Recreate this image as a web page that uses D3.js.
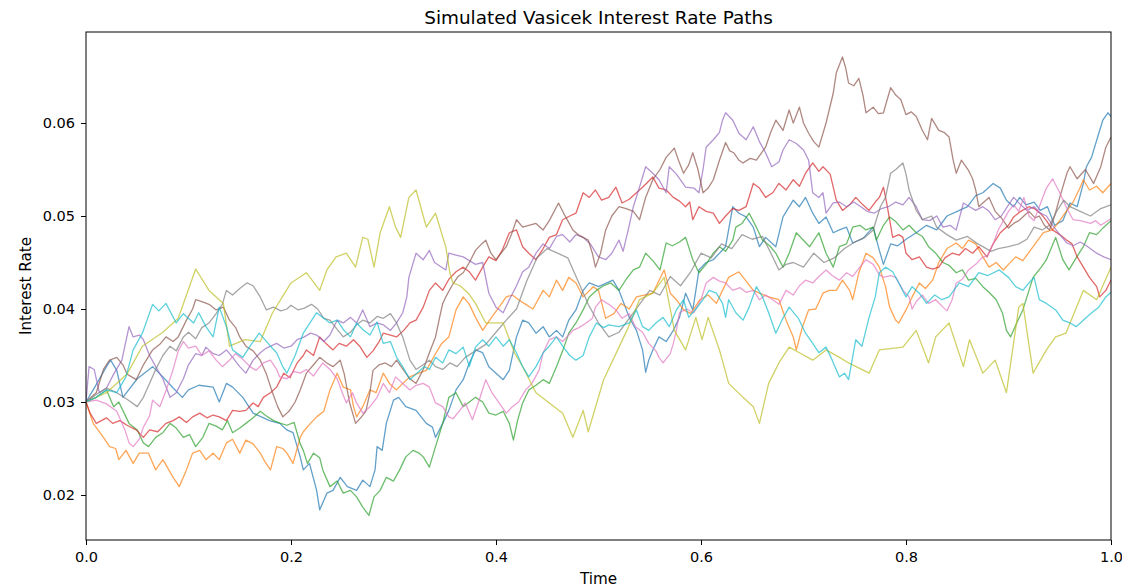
<!DOCTYPE html>
<html>
<head>
<meta charset="utf-8">
<script src="https://cdn.jsdelivr.net/npm/d3@7"></script>
<style>
  html, body { margin: 0; padding: 0; background: #fff; }
  svg { display: block; font-family: "DejaVu Sans", sans-serif; }
</style>
</head>
<body>
<svg id="chart" width="1122" height="587"></svg>
<script>
// ---- Data (time, rate) ----
const title = "Simulated Vasicek Interest Rate Paths";
const xLabel = "Time";
const yLabel = "Interest Rate";
const xTicks = [0.0, 0.2, 0.4, 0.6, 0.8, 1.0];
const yTicks = [0.02, 0.03, 0.04, 0.05, 0.06];

const path0 = [[0,0.030],[0.008,0.0315],[0.02,0.0338],[0.024,0.0345],[0.03,0.0334],[0.036,0.0305],[0.05,0.0325],[0.065,0.0338],[0.075,0.0327],[0.085,0.0315],[0.094,0.0305],[0.1,0.0313],[0.11,0.0318],[0.124,0.0316],[0.13,0.030],[0.137,0.032],[0.143,0.0316],[0.153,0.0305],[0.163,0.0288],[0.179,0.028],[0.189,0.0277],[0.196,0.027],[0.202,0.0267],[0.209,0.0241],[0.212,0.0227],[0.218,0.0234],[0.225,0.0205],[0.228,0.0184],[0.235,0.0202],[0.241,0.0205],[0.248,0.0219],[0.255,0.0209],[0.264,0.0205],[0.27,0.0216],[0.277,0.0209],[0.282,0.0227],[0.284,0.0252],[0.289,0.0248],[0.293,0.0277],[0.3,0.0302],[0.305,0.0305],[0.312,0.0295],[0.322,0.0291],[0.332,0.0277],[0.338,0.0273],[0.341,0.0262],[0.348,0.0277],[0.354,0.0291],[0.361,0.0313],[0.368,0.0324],[0.374,0.0342],[0.38,0.0356],[0.387,0.0353],[0.393,0.0338],[0.4,0.0331],[0.407,0.0324],[0.413,0.0334],[0.42,0.037],[0.426,0.0388],[0.432,0.0385],[0.439,0.0374],[0.446,0.0381],[0.452,0.037],[0.459,0.0377],[0.465,0.037],[0.471,0.0388],[0.478,0.0399],[0.485,0.042],[0.491,0.0428],[0.5,0.0424],[0.514,0.0431],[0.52,0.042],[0.53,0.0391],[0.537,0.0377],[0.543,0.0356],[0.546,0.0332],[0.549,0.0345],[0.553,0.0356],[0.559,0.037],[0.566,0.0365],[0.573,0.0377],[0.579,0.0391],[0.585,0.0417],[0.592,0.0399],[0.595,0.042],[0.598,0.0442],[0.605,0.045],[0.612,0.0453],[0.624,0.0467],[0.631,0.051],[0.637,0.0503],[0.644,0.0499],[0.651,0.0488],[0.657,0.0467],[0.663,0.0477],[0.673,0.0467],[0.68,0.0499],[0.69,0.0517],[0.696,0.051],[0.702,0.052],[0.709,0.0503],[0.715,0.0492],[0.722,0.0499],[0.729,0.0482],[0.735,0.0485],[0.742,0.0488],[0.748,0.0471],[0.758,0.0476],[0.768,0.0488],[0.774,0.0463],[0.778,0.0448],[0.785,0.047],[0.792,0.0468],[0.8,0.0475],[0.81,0.0482],[0.82,0.049],[0.83,0.0485],[0.84,0.050],[0.85,0.0505],[0.86,0.051],[0.868,0.0522],[0.875,0.0525],[0.885,0.0535],[0.892,0.053],[0.898,0.0517],[0.905,0.051],[0.911,0.052],[0.917,0.0512],[0.925,0.0515],[0.931,0.0506],[0.938,0.051],[0.945,0.049],[0.953,0.0495],[0.96,0.0514],[0.967,0.051],[0.973,0.0535],[0.976,0.0553],[0.981,0.0563],[0.987,0.0585],[0.992,0.0603],[0.997,0.0611],[1.0,0.0607]];

const path1 = [[0,0.030],[0.007,0.0277],[0.017,0.0262],[0.023,0.0252],[0.029,0.025],[0.032,0.0238],[0.039,0.0248],[0.046,0.0234],[0.052,0.0245],[0.061,0.0245],[0.068,0.0227],[0.075,0.0238],[0.085,0.0219],[0.091,0.0209],[0.098,0.0227],[0.104,0.0245],[0.111,0.0248],[0.117,0.0238],[0.124,0.0245],[0.13,0.0238],[0.137,0.0256],[0.143,0.026],[0.15,0.0245],[0.156,0.0259],[0.163,0.0255],[0.17,0.0245],[0.175,0.0235],[0.18,0.0227],[0.186,0.0252],[0.192,0.025],[0.196,0.0245],[0.202,0.0234],[0.209,0.0262],[0.212,0.0268],[0.219,0.0277],[0.225,0.0284],[0.232,0.029],[0.238,0.0313],[0.245,0.0331],[0.251,0.0316],[0.258,0.0313],[0.261,0.0295],[0.264,0.0284],[0.27,0.0295],[0.277,0.0313],[0.283,0.031],[0.29,0.0331],[0.296,0.032],[0.303,0.0313],[0.309,0.032],[0.316,0.0327],[0.322,0.033],[0.332,0.0334],[0.34,0.035],[0.347,0.0363],[0.354,0.037],[0.361,0.0399],[0.368,0.0413],[0.374,0.0405],[0.38,0.0391],[0.387,0.0377],[0.395,0.039],[0.403,0.0402],[0.41,0.0413],[0.416,0.0415],[0.422,0.041],[0.429,0.0405],[0.436,0.040],[0.446,0.042],[0.452,0.0413],[0.459,0.0431],[0.465,0.042],[0.471,0.0434],[0.478,0.0428],[0.485,0.0413],[0.495,0.0424],[0.5,0.042],[0.507,0.039],[0.515,0.0395],[0.522,0.0406],[0.53,0.040],[0.537,0.0413],[0.553,0.0417],[0.564,0.0442],[0.57,0.0417],[0.576,0.041],[0.583,0.0399],[0.59,0.0395],[0.599,0.041],[0.607,0.0415],[0.615,0.0406],[0.621,0.042],[0.627,0.0434],[0.637,0.044],[0.644,0.043],[0.651,0.042],[0.657,0.0417],[0.666,0.0413],[0.676,0.041],[0.683,0.0388],[0.69,0.037],[0.693,0.0356],[0.699,0.0381],[0.705,0.0399],[0.712,0.040],[0.719,0.0417],[0.725,0.042],[0.732,0.042],[0.738,0.0431],[0.745,0.042],[0.748,0.041],[0.754,0.0439],[0.761,0.046],[0.768,0.0455],[0.774,0.0445],[0.78,0.0424],[0.784,0.0402],[0.79,0.0388],[0.793,0.0385],[0.8,0.0399],[0.806,0.0413],[0.813,0.0428],[0.819,0.0422],[0.826,0.0431],[0.832,0.045],[0.84,0.0465],[0.849,0.0471],[0.855,0.0465],[0.861,0.0474],[0.868,0.047],[0.875,0.0456],[0.881,0.0445],[0.888,0.045],[0.895,0.0442],[0.9,0.0448],[0.907,0.0456],[0.914,0.0452],[0.924,0.0467],[0.934,0.0482],[0.943,0.0485],[0.95,0.0495],[0.957,0.0506],[0.963,0.0515],[0.97,0.0531],[0.973,0.0539],[0.979,0.0528],[0.986,0.0532],[0.992,0.0525],[1.0,0.0535]];

const path2 = [[0,0.030],[0.01,0.0305],[0.02,0.0313],[0.027,0.0295],[0.032,0.030],[0.039,0.0284],[0.042,0.0277],[0.05,0.027],[0.056,0.0256],[0.061,0.0252],[0.068,0.0262],[0.075,0.0267],[0.082,0.0277],[0.088,0.0272],[0.095,0.0262],[0.101,0.0265],[0.107,0.0252],[0.114,0.0262],[0.12,0.0277],[0.127,0.0274],[0.133,0.027],[0.138,0.028],[0.143,0.0267],[0.15,0.0272],[0.156,0.0277],[0.163,0.0283],[0.17,0.029],[0.176,0.0285],[0.183,0.028],[0.19,0.0277],[0.196,0.0275],[0.203,0.0278],[0.209,0.0255],[0.212,0.0248],[0.216,0.0234],[0.222,0.0245],[0.228,0.024],[0.231,0.0227],[0.238,0.0209],[0.245,0.0215],[0.251,0.0202],[0.258,0.0205],[0.264,0.0198],[0.27,0.0187],[0.276,0.0178],[0.281,0.0198],[0.287,0.0205],[0.293,0.0219],[0.3,0.0215],[0.306,0.0227],[0.312,0.0241],[0.319,0.0248],[0.325,0.0245],[0.329,0.0241],[0.335,0.023],[0.341,0.0252],[0.348,0.0277],[0.354,0.0305],[0.361,0.031],[0.368,0.0295],[0.374,0.030],[0.38,0.0305],[0.387,0.030],[0.393,0.0288],[0.4,0.0286],[0.407,0.029],[0.413,0.0277],[0.417,0.0259],[0.421,0.028],[0.426,0.0299],[0.432,0.0313],[0.439,0.0318],[0.446,0.0324],[0.452,0.032],[0.459,0.0338],[0.465,0.0355],[0.471,0.0374],[0.478,0.0385],[0.485,0.0399],[0.491,0.0413],[0.498,0.042],[0.505,0.0425],[0.512,0.0428],[0.52,0.042],[0.527,0.0432],[0.534,0.0442],[0.54,0.0445],[0.546,0.046],[0.553,0.0452],[0.56,0.0442],[0.566,0.0471],[0.572,0.0468],[0.579,0.0472],[0.585,0.0477],[0.592,0.0453],[0.598,0.0439],[0.605,0.0448],[0.612,0.046],[0.618,0.0467],[0.624,0.0462],[0.631,0.0474],[0.634,0.0488],[0.64,0.0492],[0.647,0.0503],[0.654,0.0488],[0.66,0.0474],[0.667,0.0468],[0.673,0.046],[0.68,0.0445],[0.686,0.046],[0.693,0.0482],[0.699,0.0475],[0.706,0.0467],[0.715,0.0482],[0.722,0.046],[0.729,0.0445],[0.735,0.0467],[0.742,0.047],[0.748,0.0488],[0.755,0.049],[0.761,0.0485],[0.768,0.0488],[0.771,0.0474],[0.778,0.049],[0.784,0.0499],[0.79,0.0494],[0.797,0.0485],[0.803,0.049],[0.81,0.0482],[0.816,0.0478],[0.822,0.0467],[0.829,0.046],[0.836,0.045],[0.842,0.0447],[0.849,0.0439],[0.855,0.0442],[0.861,0.0431],[0.868,0.0433],[0.875,0.0424],[0.881,0.0418],[0.888,0.041],[0.894,0.0396],[0.898,0.0377],[0.902,0.037],[0.908,0.0385],[0.914,0.0399],[0.92,0.042],[0.924,0.0434],[0.932,0.0445],[0.937,0.0453],[0.946,0.0477],[0.953,0.0453],[0.959,0.0442],[0.966,0.0455],[0.973,0.0467],[0.979,0.0482],[0.986,0.048],[0.993,0.0488],[1.0,0.0495]];

const path3 = [[0,0.030],[0.004,0.0288],[0.01,0.0277],[0.02,0.0283],[0.026,0.0277],[0.033,0.028],[0.04,0.0275],[0.049,0.027],[0.056,0.0262],[0.062,0.027],[0.07,0.0268],[0.078,0.0277],[0.085,0.028],[0.091,0.0284],[0.098,0.0278],[0.104,0.0284],[0.111,0.0288],[0.118,0.0283],[0.124,0.0286],[0.13,0.0284],[0.137,0.028],[0.143,0.0291],[0.15,0.029],[0.156,0.0291],[0.163,0.0299],[0.168,0.0295],[0.173,0.0305],[0.18,0.031],[0.186,0.0316],[0.193,0.0331],[0.199,0.0326],[0.206,0.0342],[0.212,0.035],[0.215,0.0356],[0.222,0.035],[0.228,0.037],[0.235,0.0362],[0.241,0.0356],[0.247,0.0363],[0.254,0.036],[0.261,0.0367],[0.267,0.036],[0.274,0.0348],[0.28,0.0355],[0.286,0.0365],[0.29,0.0374],[0.297,0.0372],[0.303,0.037],[0.31,0.0377],[0.316,0.0385],[0.322,0.0388],[0.329,0.0402],[0.335,0.042],[0.341,0.0428],[0.348,0.042],[0.354,0.0432],[0.361,0.044],[0.368,0.0445],[0.374,0.044],[0.38,0.0431],[0.387,0.0445],[0.393,0.0456],[0.4,0.0452],[0.406,0.0463],[0.413,0.0482],[0.42,0.0485],[0.426,0.0467],[0.432,0.046],[0.439,0.0453],[0.446,0.0465],[0.452,0.0477],[0.459,0.048],[0.465,0.0496],[0.472,0.050],[0.478,0.0503],[0.485,0.0525],[0.491,0.052],[0.497,0.0528],[0.503,0.0517],[0.51,0.052],[0.517,0.0531],[0.523,0.0514],[0.53,0.0518],[0.537,0.0525],[0.543,0.0531],[0.553,0.0542],[0.559,0.053],[0.566,0.0528],[0.573,0.052],[0.579,0.0516],[0.585,0.051],[0.589,0.0515],[0.592,0.0496],[0.598,0.051],[0.605,0.0505],[0.612,0.0503],[0.618,0.0492],[0.624,0.050],[0.631,0.0508],[0.637,0.0506],[0.644,0.051],[0.651,0.0535],[0.657,0.053],[0.663,0.052],[0.67,0.0525],[0.676,0.0535],[0.683,0.0528],[0.69,0.0539],[0.696,0.0532],[0.702,0.0546],[0.709,0.0557],[0.715,0.0548],[0.719,0.0553],[0.726,0.0545],[0.729,0.0531],[0.732,0.0517],[0.738,0.0506],[0.745,0.0512],[0.751,0.052],[0.758,0.0512],[0.764,0.0506],[0.77,0.0515],[0.774,0.052],[0.778,0.0531],[0.781,0.0515],[0.784,0.0496],[0.787,0.0477],[0.793,0.048],[0.797,0.0477],[0.8,0.046],[0.806,0.0453],[0.813,0.0456],[0.82,0.0445],[0.826,0.0443],[0.832,0.0445],[0.838,0.0455],[0.845,0.046],[0.852,0.0458],[0.858,0.0465],[0.865,0.046],[0.871,0.0467],[0.879,0.0456],[0.885,0.047],[0.892,0.0482],[0.9,0.049],[0.905,0.0499],[0.912,0.0505],[0.92,0.051],[0.925,0.0508],[0.931,0.0503],[0.937,0.0495],[0.943,0.0485],[0.95,0.048],[0.957,0.0474],[0.962,0.047],[0.967,0.0456],[0.973,0.0445],[0.979,0.0434],[0.986,0.0424],[0.989,0.0413],[0.995,0.042],[1.0,0.0431]];

const path4 = [[0,0.030],[0.003,0.0338],[0.008,0.0335],[0.013,0.031],[0.02,0.0315],[0.027,0.033],[0.035,0.0345],[0.042,0.0381],[0.046,0.037],[0.052,0.0372],[0.056,0.0367],[0.062,0.035],[0.068,0.0338],[0.075,0.0325],[0.082,0.0305],[0.088,0.031],[0.095,0.0325],[0.1,0.034],[0.107,0.0352],[0.113,0.035],[0.117,0.0359],[0.124,0.0352],[0.13,0.035],[0.137,0.0356],[0.143,0.0348],[0.15,0.0338],[0.156,0.0331],[0.163,0.0345],[0.17,0.0353],[0.176,0.0358],[0.186,0.0363],[0.193,0.0358],[0.2,0.036],[0.206,0.0367],[0.213,0.037],[0.219,0.0374],[0.225,0.0372],[0.232,0.0365],[0.238,0.0372],[0.245,0.0388],[0.251,0.0385],[0.258,0.0391],[0.264,0.0385],[0.27,0.0399],[0.277,0.0381],[0.284,0.0385],[0.29,0.0383],[0.297,0.0377],[0.303,0.0385],[0.309,0.0396],[0.313,0.0413],[0.315,0.0434],[0.322,0.046],[0.329,0.0453],[0.335,0.0463],[0.34,0.045],[0.351,0.0442],[0.354,0.046],[0.361,0.0458],[0.368,0.0456],[0.374,0.0452],[0.38,0.0448],[0.387,0.045],[0.393,0.0417],[0.4,0.0402],[0.407,0.0396],[0.413,0.041],[0.42,0.0425],[0.426,0.044],[0.432,0.0445],[0.439,0.046],[0.446,0.047],[0.452,0.0465],[0.459,0.0478],[0.465,0.048],[0.472,0.0472],[0.478,0.048],[0.485,0.0477],[0.492,0.047],[0.5,0.0456],[0.507,0.0453],[0.513,0.046],[0.52,0.0474],[0.524,0.0462],[0.53,0.049],[0.534,0.051],[0.54,0.0531],[0.546,0.0553],[0.553,0.0546],[0.559,0.0539],[0.566,0.0525],[0.569,0.0553],[0.576,0.0545],[0.585,0.0531],[0.593,0.053],[0.598,0.0525],[0.602,0.055],[0.605,0.0574],[0.612,0.0582],[0.618,0.059],[0.621,0.0603],[0.624,0.0611],[0.631,0.0603],[0.637,0.0589],[0.644,0.0582],[0.651,0.0596],[0.657,0.058],[0.663,0.0568],[0.669,0.0553],[0.676,0.0558],[0.68,0.0571],[0.686,0.0582],[0.693,0.0578],[0.7,0.0571],[0.705,0.056],[0.709,0.0525],[0.715,0.052],[0.719,0.0525],[0.722,0.0503],[0.729,0.0514],[0.735,0.0515],[0.742,0.051],[0.749,0.0515],[0.756,0.051],[0.762,0.0505],[0.769,0.0503],[0.776,0.0508],[0.783,0.051],[0.79,0.0515],[0.797,0.0512],[0.803,0.052],[0.81,0.051],[0.816,0.0496],[0.823,0.0495],[0.83,0.050],[0.836,0.0488],[0.843,0.049],[0.849,0.0485],[0.856,0.0514],[0.862,0.051],[0.868,0.0506],[0.875,0.051],[0.881,0.0505],[0.887,0.0496],[0.893,0.050],[0.9,0.0512],[0.905,0.052],[0.912,0.0512],[0.918,0.0506],[0.925,0.051],[0.931,0.0503],[0.937,0.050],[0.943,0.049],[0.95,0.048],[0.957,0.0471],[0.963,0.0468],[0.97,0.0472],[0.976,0.0468],[0.986,0.046],[0.993,0.0456],[1.0,0.0453]];

const path5 = [[0,0.030],[0.01,0.031],[0.017,0.0335],[0.023,0.0345],[0.03,0.0348],[0.036,0.034],[0.04,0.033],[0.049,0.0324],[0.056,0.034],[0.065,0.0356],[0.072,0.0362],[0.078,0.037],[0.085,0.0365],[0.09,0.037],[0.098,0.0388],[0.104,0.040],[0.107,0.041],[0.113,0.0408],[0.12,0.0405],[0.127,0.0399],[0.134,0.0402],[0.14,0.0388],[0.146,0.038],[0.15,0.037],[0.156,0.036],[0.163,0.0355],[0.17,0.0345],[0.176,0.033],[0.182,0.031],[0.187,0.0295],[0.192,0.0284],[0.198,0.029],[0.204,0.030],[0.209,0.0313],[0.215,0.0331],[0.222,0.034],[0.228,0.0348],[0.235,0.0342],[0.241,0.0338],[0.248,0.0345],[0.252,0.033],[0.257,0.030],[0.263,0.0277],[0.268,0.0283],[0.273,0.029],[0.277,0.031],[0.28,0.0334],[0.286,0.034],[0.292,0.0342],[0.298,0.0338],[0.303,0.0345],[0.31,0.0334],[0.316,0.0325],[0.322,0.032],[0.329,0.0335],[0.335,0.0353],[0.341,0.037],[0.345,0.0391],[0.348,0.0406],[0.351,0.0413],[0.357,0.0425],[0.363,0.0435],[0.368,0.0439],[0.374,0.045],[0.38,0.0463],[0.386,0.047],[0.39,0.0474],[0.395,0.046],[0.4,0.0453],[0.405,0.046],[0.41,0.0467],[0.415,0.048],[0.42,0.0496],[0.426,0.0488],[0.432,0.049],[0.439,0.0492],[0.446,0.0485],[0.452,0.0495],[0.461,0.0514],[0.466,0.0503],[0.47,0.0495],[0.475,0.0485],[0.48,0.048],[0.485,0.0477],[0.49,0.0474],[0.494,0.046],[0.497,0.0445],[0.502,0.046],[0.507,0.0485],[0.513,0.050],[0.52,0.051],[0.527,0.0508],[0.534,0.0505],[0.54,0.0496],[0.546,0.052],[0.553,0.0539],[0.56,0.055],[0.566,0.0563],[0.574,0.0573],[0.578,0.056],[0.583,0.0546],[0.588,0.0555],[0.592,0.0568],[0.597,0.055],[0.602,0.0525],[0.607,0.053],[0.612,0.0539],[0.618,0.056],[0.624,0.0579],[0.628,0.057],[0.632,0.0568],[0.637,0.056],[0.641,0.0557],[0.648,0.0562],[0.654,0.056],[0.663,0.0574],[0.668,0.059],[0.673,0.0603],[0.68,0.0592],[0.686,0.0614],[0.69,0.060],[0.696,0.0617],[0.7,0.060],[0.705,0.0589],[0.71,0.058],[0.715,0.0574],[0.722,0.060],[0.729,0.0632],[0.732,0.0654],[0.738,0.0671],[0.741,0.066],[0.744,0.0643],[0.749,0.064],[0.754,0.0648],[0.758,0.063],[0.761,0.0611],[0.768,0.0617],[0.773,0.061],[0.778,0.0611],[0.785,0.0638],[0.79,0.063],[0.795,0.0625],[0.8,0.0609],[0.805,0.0612],[0.81,0.0607],[0.816,0.0592],[0.821,0.0582],[0.825,0.0605],[0.832,0.0592],[0.837,0.059],[0.842,0.0585],[0.846,0.056],[0.849,0.0546],[0.854,0.056],[0.861,0.0549],[0.865,0.054],[0.868,0.0528],[0.871,0.051],[0.876,0.0515],[0.881,0.052],[0.887,0.0505],[0.893,0.0498],[0.9,0.0487],[0.905,0.0492],[0.91,0.0495],[0.915,0.050],[0.92,0.0505],[0.926,0.0498],[0.93,0.050],[0.935,0.049],[0.94,0.0485],[0.945,0.050],[0.95,0.052],[0.957,0.0546],[0.96,0.0553],[0.967,0.054],[0.975,0.055],[0.983,0.0535],[0.99,0.0553],[0.995,0.0574],[1.0,0.0585]];

const path6 = [[0,0.030],[0.01,0.0302],[0.02,0.0298],[0.03,0.029],[0.038,0.027],[0.042,0.0256],[0.046,0.0252],[0.052,0.026],[0.056,0.0273],[0.062,0.0285],[0.065,0.0302],[0.072,0.0295],[0.078,0.0312],[0.085,0.0335],[0.09,0.0355],[0.095,0.0365],[0.1,0.0358],[0.107,0.036],[0.113,0.035],[0.12,0.0355],[0.127,0.0345],[0.133,0.0338],[0.14,0.0345],[0.146,0.0352],[0.153,0.0346],[0.16,0.0338],[0.166,0.0334],[0.173,0.0342],[0.18,0.0345],[0.186,0.0335],[0.189,0.0327],[0.196,0.0325],[0.203,0.0333],[0.209,0.0331],[0.215,0.0335],[0.222,0.0328],[0.231,0.0342],[0.238,0.0335],[0.245,0.0325],[0.25,0.031],[0.254,0.0299],[0.26,0.031],[0.264,0.0299],[0.27,0.0288],[0.277,0.0295],[0.284,0.0305],[0.29,0.032],[0.296,0.031],[0.302,0.0327],[0.309,0.032],[0.316,0.0313],[0.322,0.0318],[0.329,0.032],[0.335,0.0316],[0.341,0.0299],[0.348,0.0295],[0.354,0.0284],[0.358,0.0282],[0.364,0.029],[0.37,0.0299],[0.377,0.0281],[0.383,0.030],[0.39,0.0324],[0.396,0.031],[0.403,0.0299],[0.41,0.0288],[0.416,0.0295],[0.422,0.030],[0.429,0.0313],[0.435,0.032],[0.442,0.0334],[0.446,0.0353],[0.452,0.0367],[0.459,0.037],[0.465,0.0365],[0.471,0.0372],[0.475,0.0377],[0.481,0.038],[0.488,0.0385],[0.494,0.039],[0.497,0.0402],[0.503,0.041],[0.51,0.0405],[0.517,0.0399],[0.523,0.039],[0.53,0.0395],[0.536,0.0381],[0.543,0.0375],[0.549,0.0363],[0.556,0.0355],[0.559,0.0348],[0.563,0.0342],[0.57,0.0352],[0.573,0.0363],[0.576,0.0377],[0.579,0.0396],[0.586,0.040],[0.593,0.0396],[0.6,0.041],[0.605,0.0428],[0.612,0.0434],[0.618,0.043],[0.624,0.0428],[0.631,0.042],[0.638,0.0423],[0.644,0.0418],[0.651,0.042],[0.657,0.041],[0.663,0.0415],[0.67,0.041],[0.676,0.0405],[0.683,0.042],[0.69,0.0415],[0.696,0.0425],[0.702,0.0431],[0.709,0.0428],[0.715,0.0435],[0.722,0.0442],[0.728,0.0436],[0.735,0.0431],[0.742,0.0439],[0.748,0.0435],[0.755,0.0445],[0.761,0.0453],[0.768,0.0448],[0.774,0.0437],[0.778,0.0434],[0.785,0.0436],[0.79,0.0434],[0.797,0.042],[0.803,0.0413],[0.806,0.040],[0.81,0.0408],[0.816,0.0415],[0.822,0.0406],[0.829,0.041],[0.836,0.0402],[0.84,0.0398],[0.845,0.041],[0.849,0.0428],[0.855,0.0432],[0.861,0.0442],[0.868,0.0448],[0.874,0.0455],[0.88,0.0458],[0.885,0.047],[0.89,0.0485],[0.9,0.0505],[0.905,0.0512],[0.91,0.0505],[0.915,0.052],[0.92,0.050],[0.925,0.0495],[0.93,0.051],[0.937,0.053],[0.943,0.054],[0.95,0.0525],[0.957,0.0508],[0.963,0.0496],[0.97,0.0495],[0.98,0.0492],[0.985,0.0495],[0.99,0.049],[1.0,0.0497]];

const path7 = [[0,0.030],[0.01,0.0308],[0.02,0.0315],[0.03,0.031],[0.04,0.0303],[0.05,0.0295],[0.056,0.0305],[0.062,0.032],[0.068,0.0335],[0.075,0.035],[0.082,0.036],[0.088,0.0355],[0.095,0.037],[0.1,0.0375],[0.107,0.0368],[0.113,0.038],[0.12,0.0385],[0.127,0.0395],[0.133,0.0405],[0.137,0.042],[0.143,0.0415],[0.15,0.0422],[0.157,0.0428],[0.163,0.0425],[0.17,0.0413],[0.176,0.0399],[0.183,0.0402],[0.19,0.0398],[0.196,0.040],[0.2,0.0404],[0.207,0.0399],[0.213,0.0401],[0.22,0.0405],[0.226,0.040],[0.232,0.039],[0.238,0.0388],[0.245,0.0378],[0.251,0.037],[0.258,0.0375],[0.264,0.0383],[0.27,0.0388],[0.277,0.0385],[0.284,0.0392],[0.29,0.039],[0.297,0.0395],[0.303,0.0385],[0.309,0.037],[0.316,0.0345],[0.322,0.0335],[0.329,0.034],[0.335,0.0345],[0.341,0.0338],[0.348,0.0335],[0.355,0.0342],[0.362,0.0338],[0.37,0.0348],[0.38,0.0355],[0.39,0.0362],[0.4,0.0375],[0.41,0.0388],[0.42,0.040],[0.43,0.043],[0.44,0.0455],[0.45,0.0465],[0.46,0.046],[0.47,0.0455],[0.48,0.043],[0.49,0.0405],[0.5,0.0385],[0.51,0.037],[0.52,0.0375],[0.53,0.039],[0.54,0.0405],[0.55,0.042],[0.56,0.0415],[0.57,0.0435],[0.58,0.0425],[0.59,0.044],[0.6,0.046],[0.61,0.0455],[0.62,0.047],[0.63,0.0465],[0.64,0.048],[0.65,0.0475],[0.66,0.0478],[0.67,0.0456],[0.676,0.0442],[0.683,0.0448],[0.69,0.045],[0.7,0.0445],[0.71,0.046],[0.72,0.045],[0.73,0.0455],[0.74,0.0465],[0.75,0.0472],[0.76,0.0477],[0.768,0.0485],[0.775,0.051],[0.78,0.052],[0.785,0.0546],[0.79,0.055],[0.797,0.0557],[0.8,0.0545],[0.803,0.0528],[0.81,0.0506],[0.816,0.0496],[0.825,0.050],[0.83,0.0488],[0.84,0.048],[0.849,0.0474],[0.86,0.0478],[0.87,0.047],[0.875,0.0467],[0.883,0.0462],[0.89,0.0465],[0.9,0.0467],[0.91,0.047],[0.918,0.0475],[0.925,0.0488],[0.933,0.0485],[0.94,0.049],[0.947,0.0505],[0.954,0.0517],[0.96,0.051],[0.97,0.0505],[0.98,0.050],[0.99,0.0508],[1.0,0.0512]];

const path8 = [[0,0.030],[0.02,0.031],[0.04,0.033],[0.055,0.036],[0.075,0.0375],[0.09,0.039],[0.107,0.0443],[0.12,0.042],[0.134,0.0406],[0.14,0.036],[0.155,0.0367],[0.17,0.0365],[0.182,0.0396],[0.2,0.0428],[0.215,0.0439],[0.228,0.042],[0.235,0.0442],[0.244,0.0456],[0.254,0.046],[0.263,0.0445],[0.27,0.0477],[0.275,0.0475],[0.281,0.0445],[0.287,0.0482],[0.296,0.051],[0.302,0.0488],[0.307,0.0477],[0.315,0.052],[0.322,0.0528],[0.332,0.0488],[0.341,0.0503],[0.351,0.0467],[0.355,0.0439],[0.358,0.0428],[0.365,0.0425],[0.373,0.0417],[0.38,0.0406],[0.39,0.0385],[0.407,0.0385],[0.418,0.0353],[0.425,0.034],[0.439,0.031],[0.452,0.0299],[0.465,0.0288],[0.475,0.0262],[0.485,0.0291],[0.49,0.0268],[0.505,0.0324],[0.52,0.0359],[0.529,0.038],[0.54,0.041],[0.553,0.0417],[0.564,0.0434],[0.574,0.0377],[0.585,0.0356],[0.595,0.0391],[0.601,0.0367],[0.607,0.0391],[0.618,0.0356],[0.627,0.032],[0.641,0.0305],[0.651,0.0295],[0.657,0.0277],[0.666,0.032],[0.676,0.0342],[0.686,0.0359],[0.696,0.0353],[0.709,0.0345],[0.722,0.0356],[0.735,0.0348],[0.744,0.0342],[0.764,0.0331],[0.774,0.0356],[0.797,0.0359],[0.81,0.0377],[0.822,0.0342],[0.829,0.037],[0.842,0.0385],[0.856,0.0338],[0.862,0.0367],[0.875,0.0331],[0.887,0.0345],[0.898,0.031],[0.91,0.0402],[0.914,0.0406],[0.924,0.0331],[0.937,0.0356],[0.946,0.037],[0.956,0.0374],[0.973,0.042],[0.986,0.041],[1.0,0.0445]];

const path9 = [[0,0.030],[0.01,0.0305],[0.02,0.0313],[0.03,0.031],[0.039,0.0327],[0.046,0.0356],[0.055,0.0374],[0.065,0.0405],[0.071,0.0398],[0.078,0.0406],[0.088,0.0385],[0.095,0.0395],[0.105,0.0385],[0.11,0.0396],[0.117,0.0381],[0.124,0.037],[0.13,0.0402],[0.137,0.0381],[0.143,0.0356],[0.153,0.0348],[0.16,0.036],[0.169,0.0374],[0.18,0.036],[0.186,0.0353],[0.192,0.0338],[0.196,0.0331],[0.204,0.035],[0.212,0.0374],[0.225,0.0396],[0.232,0.039],[0.238,0.0385],[0.245,0.0388],[0.251,0.0378],[0.258,0.037],[0.264,0.0385],[0.27,0.0378],[0.277,0.0372],[0.284,0.0386],[0.29,0.0363],[0.297,0.0365],[0.303,0.0348],[0.309,0.0338],[0.316,0.0324],[0.322,0.033],[0.33,0.0338],[0.335,0.0335],[0.341,0.0348],[0.348,0.0342],[0.354,0.0356],[0.361,0.0352],[0.368,0.0359],[0.374,0.0338],[0.38,0.0359],[0.387,0.0367],[0.393,0.036],[0.4,0.037],[0.407,0.036],[0.413,0.0367],[0.42,0.0353],[0.426,0.0338],[0.432,0.0327],[0.439,0.0338],[0.446,0.0353],[0.452,0.036],[0.459,0.037],[0.465,0.036],[0.472,0.035],[0.478,0.0345],[0.485,0.035],[0.491,0.037],[0.498,0.0385],[0.505,0.038],[0.51,0.0383],[0.52,0.0381],[0.53,0.0385],[0.537,0.0399],[0.543,0.0381],[0.549,0.0377],[0.556,0.0385],[0.563,0.0391],[0.569,0.0381],[0.576,0.0399],[0.583,0.041],[0.588,0.0391],[0.595,0.040],[0.602,0.041],[0.608,0.042],[0.615,0.0417],[0.621,0.0406],[0.624,0.0391],[0.627,0.041],[0.634,0.0396],[0.641,0.0388],[0.647,0.0402],[0.654,0.0424],[0.66,0.0413],[0.666,0.0396],[0.673,0.0374],[0.679,0.0388],[0.686,0.0402],[0.695,0.039],[0.702,0.0374],[0.709,0.0363],[0.715,0.0353],[0.722,0.0359],[0.728,0.0345],[0.735,0.0327],[0.74,0.0331],[0.744,0.0324],[0.751,0.0367],[0.757,0.036],[0.764,0.0391],[0.77,0.0413],[0.774,0.0439],[0.78,0.0445],[0.787,0.044],[0.793,0.0428],[0.8,0.0413],[0.806,0.0424],[0.813,0.0417],[0.82,0.0406],[0.828,0.0415],[0.835,0.041],[0.842,0.0413],[0.852,0.0428],[0.861,0.0424],[0.871,0.0439],[0.88,0.0436],[0.891,0.0442],[0.9,0.0434],[0.907,0.0424],[0.914,0.042],[0.92,0.0428],[0.925,0.0434],[0.93,0.041],[0.937,0.0406],[0.946,0.0399],[0.953,0.0388],[0.96,0.0385],[0.966,0.0381],[0.973,0.0388],[0.98,0.0395],[0.988,0.0402],[0.995,0.0413],[1.0,0.0418]];

const paths = [path0, path1, path2, path3, path4, path5, path6, path7, path8, path9];
const colors = d3.schemeCategory10;

// ---- Layout ----
const W = 1122, H = 587;
const margin = { left: 86, right: 11, top: 32, bottom: 47 };
const iw = W - margin.left - margin.right;
const ih = H - margin.top - margin.bottom;

const svg = d3.select("#chart");
const x = d3.scaleLinear().domain([0, 1]).range([margin.left, margin.left + iw]);
const y = d3.scaleLinear().domain([0.015161, 0.069785]).range([margin.top + ih, margin.top]);

svg.append("defs").append("clipPath").attr("id", "plotclip")
  .append("rect").attr("x", margin.left).attr("y", margin.top).attr("width", iw).attr("height", ih);

const line = d3.line().x(d => x(d[0])).y(d => y(d[1]));

const g = svg.append("g").attr("clip-path", "url(#plotclip)");
paths.forEach((p, i) => {
  g.append("path")
    .attr("d", line(p))
    .attr("fill", "none")
    .attr("stroke", colors[i])
    .attr("stroke-width", 1.3)
    .attr("stroke-opacity", 0.7)
    .attr("stroke-linejoin", "round");
});

// ---- Axes ----
const xAxis = d3.axisBottom(x).tickValues(xTicks).tickFormat(d3.format(".1f")).tickSize(5).tickPadding(7);
const yAxis = d3.axisLeft(y).tickValues(yTicks).tickFormat(d3.format(".2f")).tickSize(5).tickPadding(6);

const gx = svg.append("g").attr("transform", `translate(0,${margin.top + ih})`).call(xAxis);
const gy = svg.append("g").attr("transform", `translate(${margin.left},0)`).call(yAxis);
[gx, gy].forEach(a => {
  a.select(".domain").remove();
  a.selectAll("text").attr("font-size", 14.5).attr("font-family", "DejaVu Sans").attr("fill", "#000");
  a.selectAll("line").attr("stroke", "#000").attr("stroke-width", 1);
});

// frame
svg.append("rect")
  .attr("x", margin.left).attr("y", margin.top).attr("width", iw).attr("height", ih)
  .attr("fill", "none").attr("stroke", "#000").attr("stroke-width", 1);

// ---- Labels ----
svg.append("text")
  .attr("x", margin.left + iw / 2).attr("y", 24)
  .attr("text-anchor", "middle").attr("font-size", 18.4).attr("fill", "#000")
  .text(title);

svg.append("text")
  .attr("x", margin.left + iw / 2).attr("y", 584)
  .attr("text-anchor", "middle").attr("font-size", 15.2).attr("fill", "#000")
  .text(xLabel);

svg.append("text")
  .attr("transform", `translate(31,${margin.top + ih / 2}) rotate(-90)`)
  .attr("text-anchor", "middle").attr("font-size", 15.2).attr("fill", "#000")
  .text(yLabel);
</script>
</body>
</html>
